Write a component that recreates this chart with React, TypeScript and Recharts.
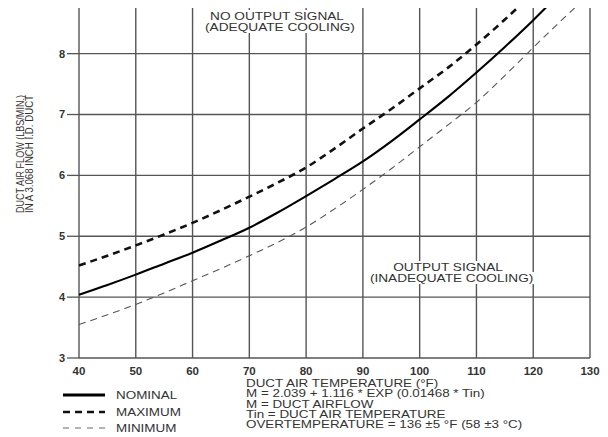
import React from 'react';
import {
  LineChart,
  Line,
  XAxis,
  YAxis,
  ReferenceLine,
} from 'recharts';

const temps = [40, 45, 50, 55, 60, 65, 70, 75, 80, 85, 90, 95, 100, 105, 110, 115, 120, 125, 130];
const nominal = [4.04, 4.2, 4.37, 4.55, 4.73, 4.93, 5.14, 5.39, 5.66, 5.94, 6.23, 6.56, 6.92, 7.29, 7.69, 8.11, 8.55, 9.02, null];
const maximum = [4.52, 4.68, 4.85, 5.03, 5.22, 5.43, 5.65, 5.88, 6.13, 6.44, 6.77, 7.09, 7.43, 7.77, 8.15, 8.56, 9.0, null, null];
const minimum = [3.55, 3.71, 3.88, 4.07, 4.27, 4.47, 4.68, 4.9, 5.15, 5.45, 5.77, 6.11, 6.47, 6.83, 7.2, 7.64, 8.1, 8.55, 8.98];

const xTicks = [40, 50, 60, 70, 80, 90, 100, 110, 120, 130];
const yTicks = [3, 4, 5, 6, 7, 8];

const formulaLines = [
  'DUCT AIR TEMPERATURE (°F)',
  'M = 2.039 + 1.116 * EXP (0.01468 * Tin)',
  'M = DUCT AIRFLOW',
  'Tin = DUCT AIR TEMPERATURE',
  'OVERTEMPERATURE = 136 ±5 °F (58 ±3 °C)',
];

const data = temps.map((t, i) => ({
  t,
  nominal: nominal[i] ?? undefined,
  maximum: maximum[i] ?? undefined,
  minimum: minimum[i] ?? undefined,
}));

const font = '"Liberation Sans", Arial, sans-serif';
const ink = '#333';
const gridColor = '#555';

const YLabel = () => (
  <g transform="translate(26,154) rotate(-90)" fontFamily={font} fontSize={10} fill={ink}>
    <text x={0} y={-2} textAnchor="middle" textLength={118} lengthAdjust="spacingAndGlyphs">
      DUCT AIR FLOW (LBS/MIN.)
    </text>
    <text x={0} y={7} textAnchor="middle" textLength={118} lengthAdjust="spacingAndGlyphs">
      IN A 3.068 INCH I.D. DUCT
    </text>
  </g>
);

const noteStyle: React.CSSProperties = {
  position: 'absolute',
  fontFamily: font,
  fontSize: 11,
  color: ink,
  textAlign: 'center',
  lineHeight: '11px',
  transform: 'scaleX(1.24)',
  transformOrigin: 'center',
  whiteSpace: 'nowrap',
};

const legendItems = [
  { name: 'NOMINAL', width: 3, dash: undefined as string | undefined, color: '#000' },
  { name: 'MAXIMUM', width: 2.5, dash: '7 5', color: '#111' },
  { name: 'MINIMUM', width: 1, dash: '6 6', color: '#666' },
];

export default function App() {
  return (
    <div style={{ position: 'absolute', left: 0, top: 0, width: 608, height: 437, background: '#fff' }}>
      <LineChart
        width={608}
        height={437}
        data={data}
        margin={{ top: 8, right: 18, left: 39, bottom: 59 }}
      >
        <XAxis
          dataKey="t"
          type="number"
          domain={[40, 130]}
          ticks={xTicks}
          axisLine={false}
          tickLine={false}
          height={20}
          tick={{ fill: ink, fontSize: 11.5, fontFamily: font, fontWeight: 'bold' }}
          tickMargin={3}
        />
        <YAxis
          type="number"
          domain={[3, 8.75]}
          allowDataOverflow
          ticks={yTicks}
          width={40}
          axisLine={false}
          tickSize={12}
          tickLine={{ stroke: gridColor, strokeWidth: 1.3 }}
          tick={{ fill: ink, fontSize: 11, fontFamily: font, fontWeight: 'bold' }}
          label={<YLabel />}
        />
        {xTicks.map((x) => (
          <ReferenceLine key={`vx-${x}`} x={x} stroke={gridColor} strokeWidth={1.4} />
        ))}
        {yTicks.map((y) => (
          <ReferenceLine key={`hy-${y}`} y={y} stroke={gridColor} strokeWidth={1.3} />
        ))}
        <Line dataKey="maximum" stroke="#111" strokeWidth={2.6} strokeDasharray="7 5" dot={false} isAnimationActive={false} type="monotone" />
        <Line dataKey="minimum" stroke="#555" strokeWidth={1.1} strokeDasharray="7 5" dot={false} isAnimationActive={false} type="monotone" />
        <Line dataKey="nominal" stroke="#000" strokeWidth={2.1} dot={false} isAnimationActive={false} type="monotone" />
      </LineChart>

      <div style={{ ...noteStyle, left: 217, top: 11, width: 120 }}>
        <span style={{ background: '#fff', padding: '0 2px' }}>NO OUTPUT SIGNAL</span>
        <br />
        <span style={{ background: '#fff', padding: '0 2px' }}>(ADEQUATE COOLING)</span>
      </div>
      <div style={{ ...noteStyle, left: 383, top: 262, width: 130 }}>
        <span style={{ background: '#fff', padding: '0 2px' }}>OUTPUT SIGNAL</span>
        <br />
        <span style={{ background: '#fff', padding: '0 2px' }}>(INADEQUATE COOLING)</span>
      </div>

      <div style={{ position: 'absolute', left: 63, top: 387 }}>
        {legendItems.map((it) => (
          <div key={it.name} style={{ display: 'flex', alignItems: 'center', height: 16.5 }}>
            <svg width={42} height={8}>
              <line x1={0} y1={4} x2={42} y2={4} stroke={it.color} strokeWidth={it.width} strokeDasharray={it.dash} />
            </svg>
            <span
              style={{
                fontFamily: font,
                fontSize: 11,
                color: ink,
                marginLeft: 11,
                display: 'inline-block',
                transform: 'scaleX(1.22)',
                transformOrigin: 'left',
              }}
            >
              {it.name}
            </span>
          </div>
        ))}
      </div>

      <div
        style={{
          position: 'absolute',
          left: 246,
          top: 379,
          fontFamily: font,
          fontSize: 10,
          color: ink,
          lineHeight: '10.3px',
          transform: 'scaleX(1.34)',
          transformOrigin: 'left',
          whiteSpace: 'nowrap',
        }}
      >
        {formulaLines.map((l) => (
          <div key={l}>{l}</div>
        ))}
      </div>
    </div>
  );
}
